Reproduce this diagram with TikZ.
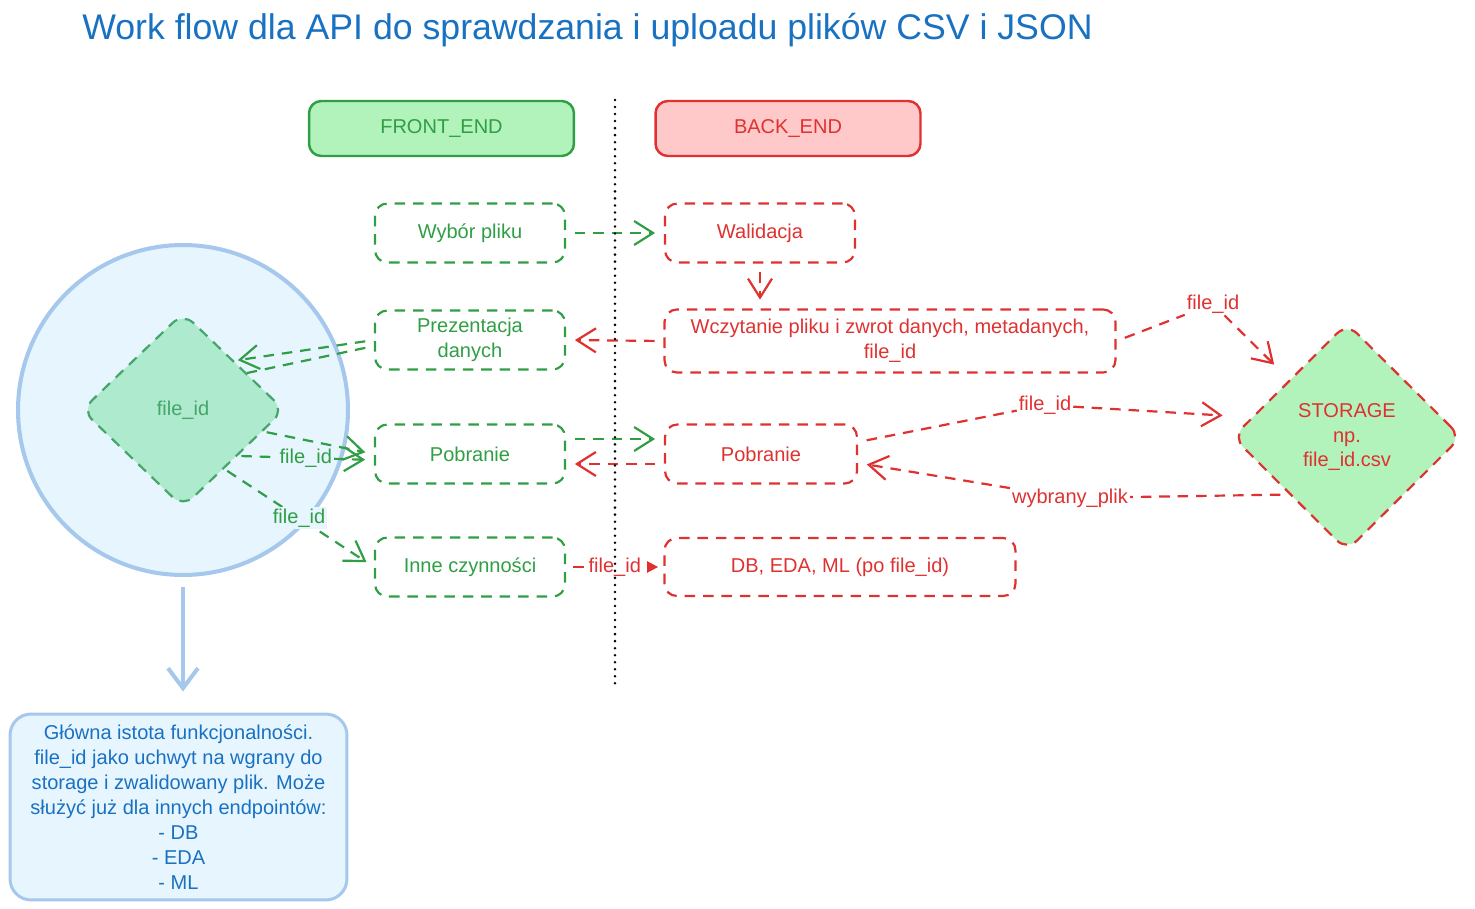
\documentclass[tikz,border=0pt]{standalone}
\usepackage{fontspec}
\setmainfont{Liberation Sans}
\usepackage{xcolor}
\usepackage{tikz}
\usetikzlibrary{shapes,arrows.meta,positioning,calc}
\definecolor{feGreen}{RGB}{47, 158, 68}
\definecolor{feFill}{RGB}{178, 242, 187}
\definecolor{beRed}{RGB}{224, 49, 49}
\definecolor{beFill}{RGB}{255, 201, 201}
\definecolor{noteBlue}{RGB}{25, 113, 194}
\definecolor{circFill}{RGB}{231, 245, 255}
\definecolor{circStroke}{RGB}{165, 200, 236}
\definecolor{fidFill}{RGB}{174, 234, 205}
\definecolor{fidGreen}{RGB}{70, 165, 105}

\begin{document}
\begin{tikzpicture}[x=0.02cm, y=-0.02cm,
    every node/.style={font=\fontsize{11.4}{14.2}\selectfont},
    headBox/.style={line width=1.4pt, rounded corners=7pt, minimum width=5.3cm, minimum height=1.1cm},
    feBox/.style={draw=feGreen, text=feGreen, line width=1.25pt, dash pattern=on 6pt off 4.5pt, rounded corners=7pt, minimum width=3.8cm, minimum height=1.18cm, align=center},
    beBox/.style={feBox, draw=beRed, text=beRed},
    feArrow/.style={draw=feGreen, line width=1.25pt, dash pattern=on 6pt off 4.5pt, shorten <=5pt, shorten >=5pt, -{Straight Barb[length=3.8mm,width=4.8mm]}},
    beArrow/.style={feArrow, draw=beRed},
    feLine/.style={draw=feGreen, line width=1.25pt, dash pattern=on 6pt off 4.5pt},
    beLine/.style={feLine, draw=beRed},
    lblRed/.style={text=beRed, fill=white, inner sep=1pt},
    lblGreen/.style={text=feGreen, fill=circFill, inner sep=1pt}]
    \useasboundingbox (0,0) rectangle (1475,909);

    % Title
    \node[anchor=west, inner sep=0pt, text=noteBlue, font=\fontsize{20.3}{24}\selectfont] (title) at (82,30) {Work flow dla API do sprawdzania i uploadu plików CSV i JSON};

    % Headers
    \node[headBox, draw=feGreen, fill=feFill, text=feGreen] (fe) at (441.5,128.5) {FRONT\_END};
    \node[headBox, draw=beRed, fill=beFill, text=beRed] (be) at (788,128.5) {BACK\_END};

    % file_id circle
    \node[circle, draw=circStroke, fill=circFill, line width=2.3pt, minimum size=6.6cm] (circ) at (183,410) {};
    \node[diamond, draw=fidGreen, fill=fidFill, text=fidGreen, line width=1.25pt, dash pattern=on 6pt off 4.5pt, rounded corners=8pt, minimum width=4.06cm, minimum height=3.9cm] (fid) at (183,410) {file\_id};

    % Front end steps
    \foreach \nm/\y/\txt in {wybor/233/Wybór pliku, prez/340/Prezentacja\\danych, pobFE/454/Pobranie, inne/567/Inne czynności} {
        \node[feBox] (\nm) at (470,\y) {\txt};
    }

    % Back end steps
    \node[beBox] (walid) at (760,233) {Walidacja};
    \node[beBox, minimum width=9.02cm, minimum height=1.26cm] (wczyt) at (890,341) {Wczytanie pliku i zwrot danych, metadanych,\\file\_id};
    \node[beBox, minimum width=3.84cm] (pobBE) at (761,454) {Pobranie};
    \node[beBox, minimum width=7.02cm, minimum height=1.16cm] (db) at (840,567) {DB, EDA, ML (po file\_id)};

    % Storage
    \node[diamond, draw=beRed, fill=feFill, text=beRed, line width=1.25pt, dash pattern=on 6pt off 4.5pt, rounded corners=8pt, minimum width=4.58cm, minimum height=4.56cm, align=center] (storage) at (1347,437) {STORAGE\\np.\\file\_id.csv};

    % Note
    \node[draw=circStroke, fill=circFill, text=noteBlue, line width=1.7pt, rounded corners=12pt, minimum width=6.74cm, minimum height=3.72cm, inner sep=2pt, align=center] (note) at (178.5,807) {Główna istota funkcjonalności.\\file\_id jako uchwyt na wgrany do\\storage i zwalidowany plik. Może\\służyć już dla innych endpointów:\\- DB\\- EDA\\- ML};
    \draw[circStroke, line width=2.3pt, shorten <=0.2cm, shorten >=0.42cm, -{Straight Barb[length=4mm,width=6mm]}] (circ.south) -- (circ.south |- note.north);

    % Labels at bends
    \node[lblRed] (sl1) at (1213,304) {file\_id};
    \node[lblRed] (sl2) at (1045,405) {file\_id};
    \node[lblRed] (sl3) at (1070,498) {wybrany\_plik};

    % Front <-> Back arrows
    \draw[feArrow] (wybor.east) -- (walid.west);
    \draw[beArrow] (walid.south) -- (walid.south |- wczyt.north);
    \draw[beArrow] (wczyt.west) -- (prez.east);
    \draw[feArrow] ([yshift=0.3cm]pobFE.east) -- ([yshift=0.3cm]pobBE.west);
    \draw[beArrow] ([yshift=-0.2cm]pobBE.west) -- ([yshift=-0.2cm]pobFE.east);
    \draw[beLine, shorten <=4pt, shorten >=3pt, -{Triangle[length=2.2mm,width=2.2mm]}] (inne.east) -- node[lblRed]{file\_id} (db.west);

    % file_id arrows
    \draw[feArrow, shorten >=2pt] (prez.west) -- (fid.north east);
    \draw[feLine, shorten <=5pt] ([yshift=-0.12cm]prez.west) -- (fid.30);
    \draw[feArrow, shorten <=2pt] (fid.-40) -- node[lblGreen]{file\_id} ([yshift=-0.12cm]pobFE.west);
    \draw[feArrow, shorten <=2pt] (fid.-15) -- (pobFE.west);
    \draw[feArrow, shorten <=2pt] (fid.-55) -- node[lblGreen]{file\_id} (inne.west);

    % Storage arrows
    \draw[beLine, shorten <=5pt] (wczyt.east) -- (sl1);
    \draw[beArrow, shorten <=0pt, shorten >=12pt] (sl1) -- (storage.north west);
    \draw[beLine, shorten <=5pt] ([yshift=0.24cm]pobBE.east) -- (sl2);
    \draw[beArrow, shorten <=0pt] (sl2) -- ([yshift=0.42cm]storage.west);
    \draw[beLine, shorten <=5pt] (storage.south west) -- (sl3);
    \draw[beArrow, shorten <=0pt] (sl3) -- ([yshift=-0.18cm]pobBE.east);

    % Divider
    \draw[line width=1.6pt, dash pattern=on 0pt off 4pt, line cap=round] (615,100) -- (615,690);
\end{tikzpicture}
\end{document}
